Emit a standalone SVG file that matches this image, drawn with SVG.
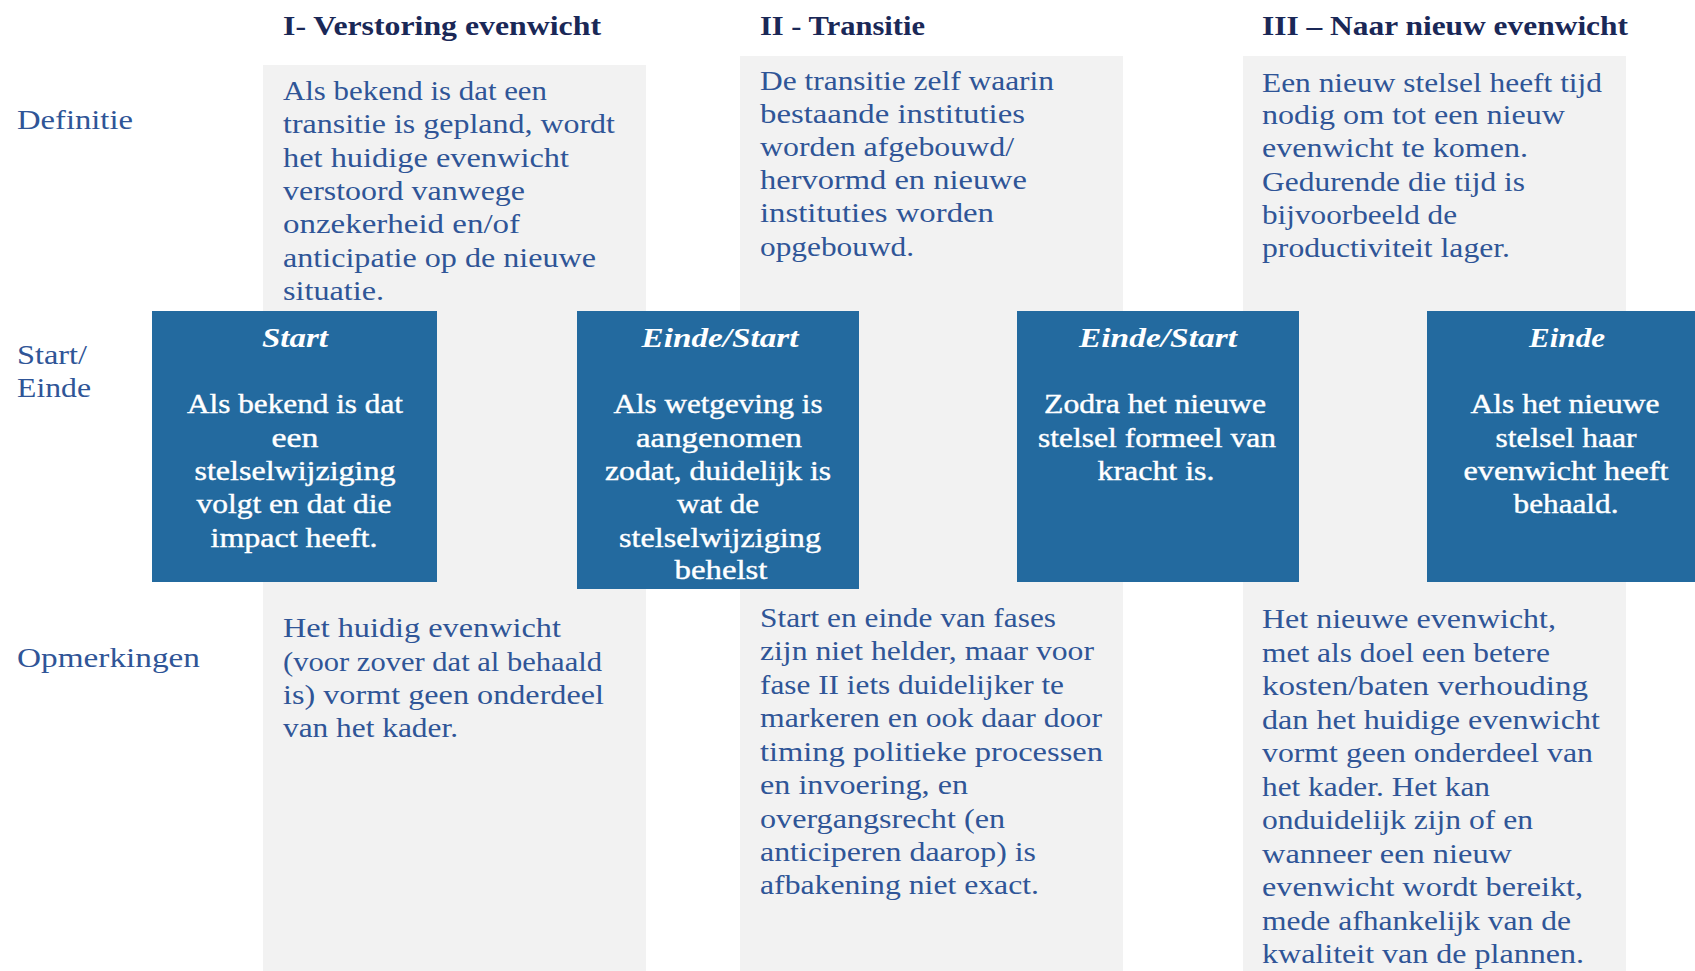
<svg xmlns="http://www.w3.org/2000/svg" width="1695" height="971" viewBox="0 0 1695 971">
<style>
.col{fill:#F2F2F2}
.box{fill:#236A9F}
.hd{font-family:"Liberation Serif",serif;font-weight:bold;font-size:27px;fill:#1A2857}
.lbl{font-family:"Liberation Serif",serif;font-size:27px;fill:#2F5597}
.t{font-family:"Liberation Serif",serif;font-size:27px;fill:#2F5597}
.bt{font-family:"Liberation Serif",serif;font-size:27px;fill:#FFFFFF;stroke:#FFFFFF;stroke-width:0.4;text-anchor:middle}
.bh{font-family:"Liberation Serif",serif;font-size:27px;font-weight:bold;font-style:italic;fill:#FFFFFF;text-anchor:middle}
</style>
<rect width="1695" height="971" fill="#FFFFFF"/>
<g id="columns">
<rect class="col" x="263" y="65" width="383" height="906"/>
<rect class="col" x="740" y="56" width="383" height="915"/>
<rect class="col" x="1243" y="56" width="383" height="915"/>
</g>
<g id="headings">
<text class="hd" x="283" y="35" textLength="318" lengthAdjust="spacingAndGlyphs">I- Verstoring evenwicht</text>
<text class="hd" x="760" y="35" textLength="165" lengthAdjust="spacingAndGlyphs">II - Transitie</text>
<text class="hd" x="1262" y="35" textLength="366" lengthAdjust="spacingAndGlyphs">III – Naar nieuw evenwicht</text>
</g>
<g id="row-labels">
<text class="lbl" x="17" y="129" textLength="116" lengthAdjust="spacingAndGlyphs">Definitie</text>
<text class="lbl" x="17" y="364" textLength="70" lengthAdjust="spacingAndGlyphs">Start/</text>
<text class="lbl" x="17" y="397" textLength="74" lengthAdjust="spacingAndGlyphs">Einde</text>
<text class="lbl" x="17" y="667" textLength="183" lengthAdjust="spacingAndGlyphs">Opmerkingen</text>
</g>
<g id="def1">
<text class="t" x="283" y="100" textLength="264" lengthAdjust="spacingAndGlyphs">Als bekend is dat een</text>
<text class="t" x="283" y="133" textLength="332" lengthAdjust="spacingAndGlyphs">transitie is gepland, wordt</text>
<text class="t" x="283" y="167" textLength="286" lengthAdjust="spacingAndGlyphs">het huidige evenwicht</text>
<text class="t" x="283" y="200" textLength="242" lengthAdjust="spacingAndGlyphs">verstoord vanwege</text>
<text class="t" x="283" y="233" textLength="237" lengthAdjust="spacingAndGlyphs">onzekerheid en/of</text>
<text class="t" x="283" y="267" textLength="313" lengthAdjust="spacingAndGlyphs">anticipatie op de nieuwe</text>
<text class="t" x="283" y="300" textLength="101" lengthAdjust="spacingAndGlyphs">situatie.</text>
</g>
<g id="def2">
<text class="t" x="760" y="90" textLength="294" lengthAdjust="spacingAndGlyphs">De transitie zelf waarin</text>
<text class="t" x="760" y="123" textLength="265" lengthAdjust="spacingAndGlyphs">bestaande instituties</text>
<text class="t" x="760" y="156" textLength="254" lengthAdjust="spacingAndGlyphs">worden afgebouwd/</text>
<text class="t" x="760" y="189" textLength="267" lengthAdjust="spacingAndGlyphs">hervormd en nieuwe</text>
<text class="t" x="760" y="222" textLength="234" lengthAdjust="spacingAndGlyphs">instituties worden</text>
<text class="t" x="760" y="256" textLength="154" lengthAdjust="spacingAndGlyphs">opgebouwd.</text>
</g>
<g id="def3">
<text class="t" x="1262" y="92" textLength="340" lengthAdjust="spacingAndGlyphs">Een nieuw stelsel heeft tijd</text>
<text class="t" x="1262" y="124" textLength="303" lengthAdjust="spacingAndGlyphs">nodig om tot een nieuw</text>
<text class="t" x="1262" y="157" textLength="266" lengthAdjust="spacingAndGlyphs">evenwicht te komen.</text>
<text class="t" x="1262" y="191" textLength="263" lengthAdjust="spacingAndGlyphs">Gedurende die tijd is</text>
<text class="t" x="1262" y="224" textLength="195" lengthAdjust="spacingAndGlyphs">bijvoorbeeld de</text>
<text class="t" x="1262" y="257" textLength="248" lengthAdjust="spacingAndGlyphs">productiviteit lager.</text>
</g>
<g id="box-start">
<rect class="box" x="152" y="311" width="285" height="271"/>
<text class="bh" x="295" y="347" textLength="66" lengthAdjust="spacingAndGlyphs">Start</text>
<text class="bt" x="295" y="413" textLength="216" lengthAdjust="spacingAndGlyphs">Als bekend is dat</text>
<text class="bt" x="295" y="447" textLength="47" lengthAdjust="spacingAndGlyphs">een</text>
<text class="bt" x="295" y="480" textLength="201" lengthAdjust="spacingAndGlyphs">stelselwijziging</text>
<text class="bt" x="294" y="513" textLength="195" lengthAdjust="spacingAndGlyphs">volgt en dat die</text>
<text class="bt" x="294" y="547" textLength="167" lengthAdjust="spacingAndGlyphs">impact heeft.</text>
</g>
<g id="box-einde-start-1">
<rect class="box" x="577" y="311" width="282" height="278"/>
<text class="bh" x="720" y="347" textLength="157" lengthAdjust="spacingAndGlyphs">Einde/Start</text>
<text class="bt" x="718" y="413" textLength="209" lengthAdjust="spacingAndGlyphs">Als wetgeving is</text>
<text class="bt" x="719" y="447" textLength="166" lengthAdjust="spacingAndGlyphs">aangenomen</text>
<text class="bt" x="718" y="480" textLength="226" lengthAdjust="spacingAndGlyphs">zodat, duidelijk is</text>
<text class="bt" x="718" y="513" textLength="82" lengthAdjust="spacingAndGlyphs">wat de</text>
<text class="bt" x="720" y="547" textLength="202" lengthAdjust="spacingAndGlyphs">stelselwijziging</text>
<text class="bt" x="721" y="579" textLength="93" lengthAdjust="spacingAndGlyphs">behelst</text>
</g>
<g id="box-einde-start-2">
<rect class="box" x="1017" y="311" width="282" height="271"/>
<text class="bh" x="1158" y="347" textLength="158" lengthAdjust="spacingAndGlyphs">Einde/Start</text>
<text class="bt" x="1155" y="413" textLength="222" lengthAdjust="spacingAndGlyphs">Zodra het nieuwe</text>
<text class="bt" x="1157" y="447" textLength="238" lengthAdjust="spacingAndGlyphs">stelsel formeel van</text>
<text class="bt" x="1156" y="480" textLength="117" lengthAdjust="spacingAndGlyphs">kracht is.</text>
</g>
<g id="box-einde">
<rect class="box" x="1427" y="311" width="268" height="271"/>
<text class="bh" x="1567" y="347" textLength="76" lengthAdjust="spacingAndGlyphs">Einde</text>
<text class="bt" x="1565" y="413" textLength="189" lengthAdjust="spacingAndGlyphs">Als het nieuwe</text>
<text class="bt" x="1566" y="447" textLength="141" lengthAdjust="spacingAndGlyphs">stelsel haar</text>
<text class="bt" x="1566" y="480" textLength="205" lengthAdjust="spacingAndGlyphs">evenwicht heeft</text>
<text class="bt" x="1566" y="513" textLength="105" lengthAdjust="spacingAndGlyphs">behaald.</text>
</g>
<g id="opm1">
<text class="t" x="283" y="637" textLength="278" lengthAdjust="spacingAndGlyphs">Het huidig evenwicht</text>
<text class="t" x="283" y="671" textLength="319" lengthAdjust="spacingAndGlyphs">(voor zover dat al behaald</text>
<text class="t" x="283" y="704" textLength="321" lengthAdjust="spacingAndGlyphs">is) vormt geen onderdeel</text>
<text class="t" x="283" y="737" textLength="175" lengthAdjust="spacingAndGlyphs">van het kader.</text>
</g>
<g id="opm2">
<text class="t" x="760" y="627" textLength="296" lengthAdjust="spacingAndGlyphs">Start en einde van fases</text>
<text class="t" x="760" y="660" textLength="334" lengthAdjust="spacingAndGlyphs">zijn niet helder, maar voor</text>
<text class="t" x="760" y="694" textLength="304" lengthAdjust="spacingAndGlyphs">fase II iets duidelijker te</text>
<text class="t" x="760" y="727" textLength="342" lengthAdjust="spacingAndGlyphs">markeren en ook daar door</text>
<text class="t" x="760" y="761" textLength="343" lengthAdjust="spacingAndGlyphs">timing politieke processen</text>
<text class="t" x="760" y="794" textLength="208" lengthAdjust="spacingAndGlyphs">en invoering, en</text>
<text class="t" x="760" y="828" textLength="245" lengthAdjust="spacingAndGlyphs">overgangsrecht (en</text>
<text class="t" x="760" y="861" textLength="276" lengthAdjust="spacingAndGlyphs">anticiperen daarop) is</text>
<text class="t" x="760" y="894" textLength="279" lengthAdjust="spacingAndGlyphs">afbakening niet exact.</text>
</g>
<g id="opm3">
<text class="t" x="1262" y="628" textLength="294" lengthAdjust="spacingAndGlyphs">Het nieuwe evenwicht,</text>
<text class="t" x="1262" y="662" textLength="288" lengthAdjust="spacingAndGlyphs">met als doel een betere</text>
<text class="t" x="1262" y="695" textLength="326" lengthAdjust="spacingAndGlyphs">kosten/baten verhouding</text>
<text class="t" x="1262" y="729" textLength="338" lengthAdjust="spacingAndGlyphs">dan het huidige evenwicht</text>
<text class="t" x="1262" y="762" textLength="331" lengthAdjust="spacingAndGlyphs">vormt geen onderdeel van</text>
<text class="t" x="1262" y="796" textLength="228" lengthAdjust="spacingAndGlyphs">het kader. Het kan</text>
<text class="t" x="1262" y="829" textLength="271" lengthAdjust="spacingAndGlyphs">onduidelijk zijn of en</text>
<text class="t" x="1262" y="863" textLength="250" lengthAdjust="spacingAndGlyphs">wanneer een nieuw</text>
<text class="t" x="1262" y="896" textLength="321" lengthAdjust="spacingAndGlyphs">evenwicht wordt bereikt,</text>
<text class="t" x="1262" y="930" textLength="309" lengthAdjust="spacingAndGlyphs">mede afhankelijk van de</text>
<text class="t" x="1262" y="963" textLength="322" lengthAdjust="spacingAndGlyphs">kwaliteit van de plannen.</text>
</g>
</svg>
